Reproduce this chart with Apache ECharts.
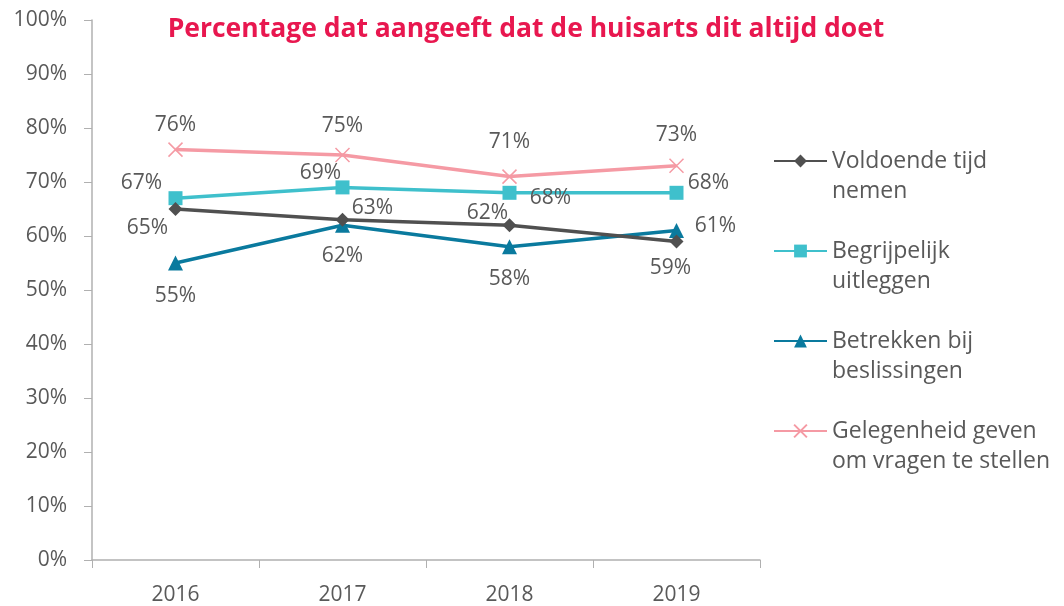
<!DOCTYPE html>
<html>
<head>
<meta charset="utf-8">
<script src="https://cdn.jsdelivr.net/npm/echarts@6/dist/echarts.min.js"></script>
<style>
  html, body { margin: 0; padding: 0; background: #fff; }
  #chart { width: 1064px; height: 606px; }
</style>
</head>
<body>
<div id="chart"></div>
<script>
// data
var years = ['2016', '2017', '2018', '2019'];
var seriesNames = ['Voldoende tijd nemen', 'Begrijpelijk uitleggen', 'Betrekken bij beslissingen', 'Gelegenheid geven om vragen te stellen'];
var legendLabels = ['Voldoende tijd\nnemen', 'Begrijpelijk\nuitleggen', 'Betrekken bij\nbeslissingen', 'Gelegenheid geven\nom vragen te stellen'];
var voldoende = [65, 63, 62, 59];
var begrijpelijk = [67, 69, 68, 68];
var betrekken = [55, 62, 58, 61];
var gelegenheid = [76, 75, 71, 73];

// label offsets per point (style only)
var offsets = [
  [[-28, 19], [30, -12], [-22, -12], [-6, 27]],
  [[-34, -15], [-22, -14], [41, 5], [32, -10]],
  [[0, 33], [0, 31], [0, 32], [39, -5]],
  [[0, -25], [0, -29], [0, -35], [0, -31]]
];
var colors = ['#505050', '#3fc0cc', '#0a7a9e', '#f59aa4'];
var symbols = ['diamond', 'rect', 'triangle', 'path://M0,0L10,10M10,0L0,10'];
var symbolSizes = [14, 14, 15, 14];

var font = 'Open Sans';
var textColor = '#595959';

function buildData(values, idx) {
  return values.map(function (v, i) {
    return {
      value: v,
      label: { position: 'inside', offset: offsets[idx][i] }
    };
  });
}

var allValues = [voldoende, begrijpelijk, betrekken, gelegenheid];

var chart = echarts.init(document.getElementById('chart'));
var option = {
  animation: false,
  title: {
    text: 'Percentage dat aangeeft dat de huisarts dit altijd doet',
    left: 521,
    textAlign: 'center',
    top: 11,
    textStyle: { fontFamily: font, fontSize: 26.5, fontWeight: 'bold', color: '#e8174f' }
  },
  grid: { left: 92, right: 304, top: 20, bottom: 46 },
  legend: {
    orient: 'vertical',
    left: 768,
    top: 111,
    itemWidth: 53,
    itemHeight: 16,
    itemGap: 0,
    data: seriesNames,
    // blank first line so the icon lines up with the first text line
    formatter: function (name) { return ' \n' + legendLabels[seriesNames.indexOf(name)]; },
    textStyle: { fontFamily: font, fontSize: 23, color: textColor, lineHeight: 30 }
  },
  xAxis: {
    type: 'category',
    data: years,
    boundaryGap: true,
    axisLine: { lineStyle: { color: '#b0b0b0', width: 1.5 } },
    axisTick: { show: true, length: 8, lineStyle: { color: '#b0b0b0' } },
    axisLabel: { fontFamily: font, fontSize: 21, color: textColor, margin: 25 }
  },
  yAxis: {
    type: 'value',
    min: 0,
    max: 100,
    interval: 10,
    splitLine: { show: false },
    axisLine: { show: true, lineStyle: { color: '#b0b0b0', width: 1.5 } },
    axisTick: { show: true, length: 8, lineStyle: { color: '#b0b0b0' } },
    axisLabel: { fontFamily: font, fontSize: 21, color: textColor, margin: 25, formatter: '{value}%' }
  },
  series: allValues.map(function (vals, idx) {
    return {
      name: seriesNames[idx],
      type: 'line',
      data: buildData(vals, idx),
      symbol: symbols[idx],
      symbolSize: symbolSizes[idx],
      lineStyle: { color: colors[idx], width: 3.5 },
      itemStyle: { color: colors[idx], borderColor: colors[idx], borderWidth: idx === 3 ? 1.5 : 0 },
      label: {
        show: true,
        formatter: '{c}%',
        fontFamily: font,
        fontSize: 21,
        color: textColor
      },
      z: 10 - idx
    };
  })
};
chart.setOption(option);
</script>
</body>
</html>
